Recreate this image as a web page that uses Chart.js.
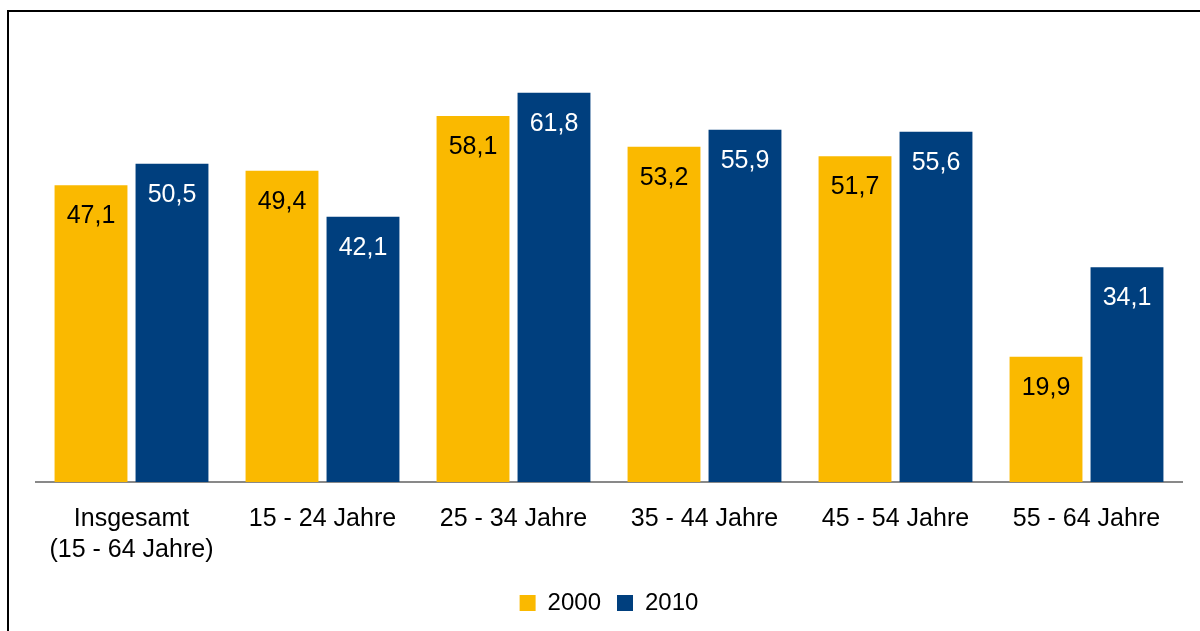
<!DOCTYPE html>
<html>
<head>
<meta charset="utf-8">
<script src="https://cdn.jsdelivr.net/npm/chart.js@4.4.0/dist/chart.umd.min.js"></script>
<style>
  html, body { margin: 0; padding: 0; background: #fff; }
  #wrap { position: relative; width: 1200px; height: 631px; }
  #frame { position: absolute; left: 7px; top: 10px; right: 0; bottom: 0;
           border-top: 2px solid #000; border-left: 2px solid #000; pointer-events: none; }
</style>
</head>
<body>
<div id="wrap">
  <canvas id="myChart" width="1200" height="631"></canvas>
  <div id="frame"></div>
</div>
<script>
var categories = [['Insgesamt', '(15 - 64 Jahre)'], '15 - 24 Jahre', '25 - 34 Jahre', '35 - 44 Jahre', '45 - 54 Jahre', '55 - 64 Jahre'];
var values2000 = [47.1, 49.4, 58.1, 53.2, 51.7, 19.9];
var values2010 = [50.5, 42.1, 61.8, 55.9, 55.6, 34.1];
var seriesNames = ['2000', '2010'];

var FONT = 'Arial, "Liberation Sans", sans-serif';

// value labels inside the bars, near the top
var barLabels = {
	id: 'barLabels',
	afterDatasetsDraw: function(chart) {
		var ctx = chart.ctx;
		ctx.save();
		ctx.font = '25px ' + FONT;
		ctx.textAlign = 'center';
		ctx.textBaseline = 'middle';
		chart.data.datasets.forEach(function(ds, i) {
			var meta = chart.getDatasetMeta(i);
			ctx.fillStyle = i === 0 ? '#000000' : '#ffffff';
			meta.data.forEach(function(bar, j) {
				var txt = ds.data[j].toFixed(1).replace('.', ',');
				ctx.fillText(txt, bar.x, bar.y + 31);
			});
		});
		ctx.restore();
	}
};

var ctx = document.getElementById('myChart');
var myChart = new Chart(ctx, {
	type: 'bar',
	data: {
		labels: categories,
		datasets: [
			{
				label: seriesNames[0],
				data: values2000,
				backgroundColor: '#FAB900',
				categoryPercentage: 0.848,
				barPercentage: 0.90
			},
			{
				label: seriesNames[1],
				data: values2010,
				backgroundColor: '#003F7E',
				categoryPercentage: 0.848,
				barPercentage: 0.90
			}
		]
	},
	options: {
		responsive: false,
		animation: false,
		layout: { padding: { left: 36, right: 18, top: 41, bottom: 6 } },
		plugins: {
			tooltip: { enabled: false },
			legend: {
				position: 'bottom',
				labels: {
					font: { family: FONT, size: 24 },
					color: '#000',
					boxWidth: 16,
					boxHeight: 16,
					padding: 16
				}
			}
		},
		scales: {
			x: {
				grid: { display: false, drawTicks: false },
				border: { display: true, color: '#898989', width: 2 },
				ticks: {
					font: { family: FONT, size: 25, lineHeight: 1.24 },
					color: '#000',
					padding: 22,
					maxRotation: 0,
					autoSkip: false
				},
				afterFit: function(scale) {
					scale.height = 93;
				}
			},
			y: {
				display: false,
				min: 0,
				max: 70
			}
		}
	},
	plugins: [barLabels]
});
</script>
</body>
</html>
